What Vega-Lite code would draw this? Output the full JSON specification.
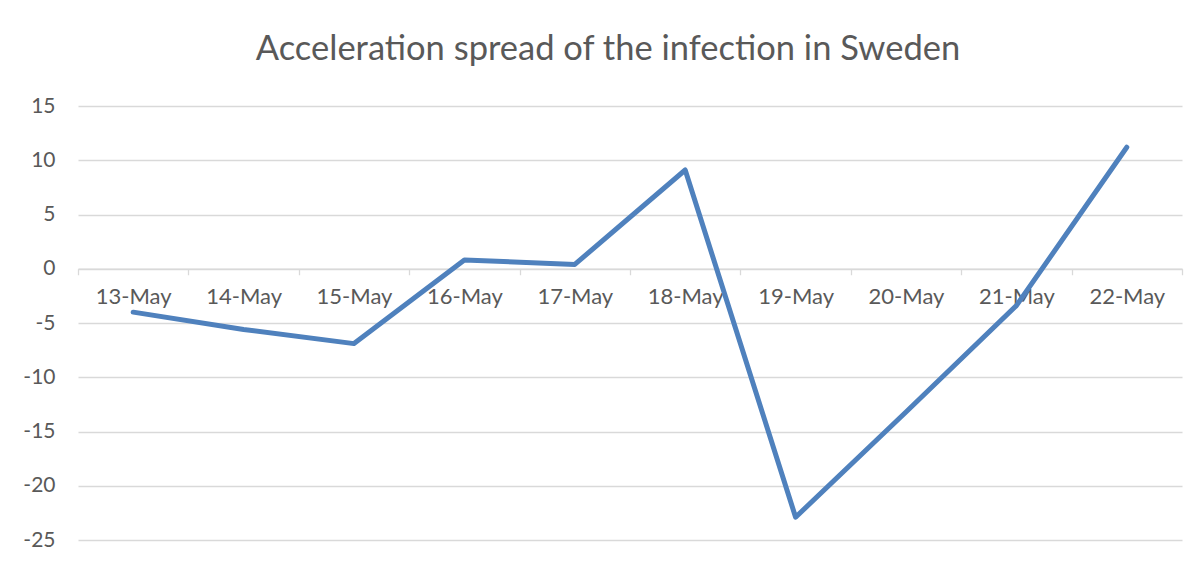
{
  "$schema": "https://vega.github.io/schema/vega-lite/v6.json",
  "width": 1104,
  "height": 434,
  "autosize": {"type": "none"},
  "padding": {"left": 78, "top": 106, "right": 21, "bottom": 24},
  "background": "white",
  "config": {"view": {"stroke": null}, "font": "Lato"},
  "title": {
    "text": "Acceleration spread of the infection in Sweden",
    "font": "Lato",
    "fontSize": 34.5,
    "fontWeight": "normal",
    "color": "#595959",
    "anchor": "middle",
    "dx": -22,
    "baseline": "alphabetic",
    "offset": 1
  },
  "data": {
    "values": [
      {"date": "13-May", "value": -4.0},
      {"date": "14-May", "value": -5.6},
      {"date": "15-May", "value": -6.9},
      {"date": "16-May", "value": 0.8},
      {"date": "17-May", "value": 0.4},
      {"date": "18-May", "value": 9.1},
      {"date": "19-May", "value": -22.9},
      {"date": "20-May", "value": -13.2},
      {"date": "21-May", "value": -3.4},
      {"date": "22-May", "value": 11.2}
    ]
  },
  "mark": {"type": "line", "color": "#4f81bd", "strokeWidth": 5, "strokeCap": "round", "strokeJoin": "round"},
  "encoding": {
    "x": {
      "field": "date",
      "type": "ordinal",
      "sort": null,
      "scale": {"type": "band", "paddingInner": 0, "paddingOuter": 0},
      "axis": {
        "title": null,
        "orient": "bottom",
        "offset": -271.25,
        "labelAngle": 0,
        "labelFont": "Lato",
        "labelFontSize": 22,
        "labelColor": "#595959",
        "labelPadding": 12,
        "domainColor": "#d9d9d9",
        "domainWidth": 1.3,
        "tickColor": "#d9d9d9",
        "tickWidth": 1.3,
        "tickSize": 6,
        "tickBand": "extent",
        "grid": false
      }
    },
    "y": {
      "field": "value",
      "type": "quantitative",
      "scale": {"domain": [-25, 15], "nice": false, "zero": false},
      "axis": {
        "title": null,
        "values": [-25, -20, -15, -10, -5, 0, 5, 10, 15],
        "labelExpr": "'' + datum.value",
        "grid": true,
        "gridColor": "#d9d9d9",
        "gridWidth": 1.3,
        "domain": false,
        "ticks": false,
        "tickSize": 0,
        "labelPadding": 23,
        "labelFont": "Lato",
        "labelFontSize": 21,
        "labelColor": "#595959"
      }
    }
  }
}
